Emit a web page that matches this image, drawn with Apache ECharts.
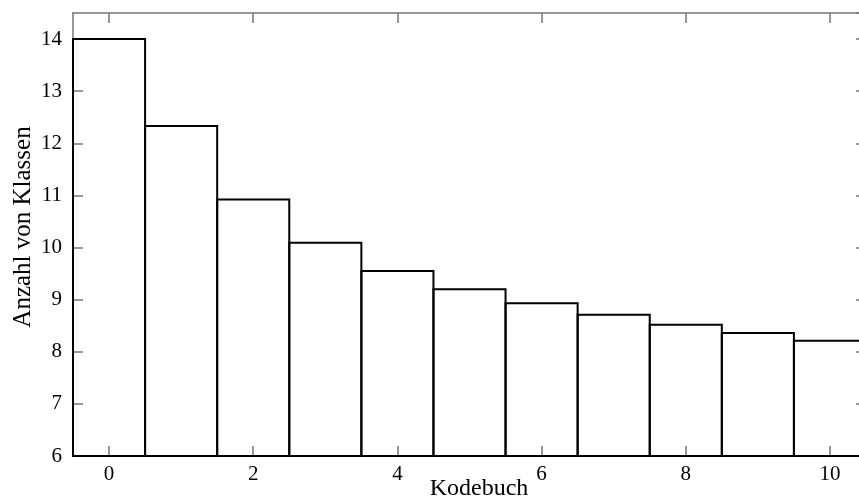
<!DOCTYPE html>
<html>
<head>
<meta charset="utf-8">
<script src="https://cdn.jsdelivr.net/npm/echarts@6/dist/echarts.min.js"></script>
<style>
  html, body { margin: 0; padding: 0; background: #fff; }
  #chart { width: 859px; height: 502px; }
</style>
</head>
<body>
<div id="chart"></div>
<script>
// codebook index and number of classes
const codebooks = [0, 1, 2, 3, 4, 5, 6, 7, 8, 9, 10];
const classCounts = [14.0, 12.33, 10.92, 10.09, 9.55, 9.20, 8.93, 8.71, 8.52, 8.36, 8.21];
const xTickValues = [0, 2, 4, 6, 8, 10];

const font = '"Liberation Serif", "Times New Roman", serif';
const frameColor = '#777';

const data = codebooks.map((c, i) => [c, classCounts[i]]);

const chart = echarts.init(document.getElementById('chart'));

const xBase = {
    type: 'value', min: -0.5, max: 10.5,
    axisLine: { show: true, onZero: false, lineStyle: { color: frameColor, width: 1.5 } },
    axisTick: { inside: true, length: 10, customValues: xTickValues, lineStyle: { color: frameColor, width: 1.5 } },
    splitLine: { show: false }
};
const yBase = {
    type: 'value', min: 6, max: 14.5, interval: 1,
    axisLine: { show: true, onZero: false, lineStyle: { color: frameColor, width: 1.5 } },
    axisTick: { inside: true, length: 10, lineStyle: { color: frameColor, width: 1.5 } },
    splitLine: { show: false }
};

chart.setOption({
    animation: false,
    // plot runs a few pixels past the right edge of the picture
    grid: { left: 73, width: 793, top: 13, bottom: 46, outerBoundsMode: 'none', containLabel: false },
    xAxis: [
        Object.assign({}, xBase, {
            position: 'bottom',
            axisLabel: { customValues: xTickValues, color: '#000', fontFamily: font, fontSize: 21, margin: 8 }
        }),
        Object.assign({}, xBase, { position: 'top', axisLabel: { show: false } })
    ],
    yAxis: [
        Object.assign({}, yBase, {
            position: 'left',
            axisLabel: { color: '#000', fontFamily: font, fontSize: 21, margin: 11, showMaxLabel: false }
        }),
        Object.assign({}, yBase, { position: 'right', axisLabel: { show: false } })
    ],
    graphic: [
        {
            type: 'text', x: 479, y: 489,
            style: { text: 'Kodebuch', fontFamily: font, fontSize: 24, fill: '#000', align: 'center', verticalAlign: 'middle' }
        },
        {
            type: 'text', x: 23, y: 227, rotation: Math.PI / 2,
            style: { text: 'Anzahl von Klassen', fontFamily: font, fontSize: 25, fill: '#000', align: 'center', verticalAlign: 'middle' }
        }
    ],
    series: [{
        type: 'custom',
        data: data,
        clip: false,
        renderItem: function (params, api) {
            const x = api.value(0);
            const v = api.value(1);
            const p1 = api.coord([x - 0.5, v]);
            const p2 = api.coord([x + 0.5, 6]);
            return {
                type: 'rect',
                shape: { x: p1[0], y: p1[1], width: p2[0] - p1[0], height: p2[1] - p1[1] },
                style: { fill: 'none', stroke: '#000', lineWidth: 2 }
            };
        }
    }]
});
</script>
</body>
</html>
